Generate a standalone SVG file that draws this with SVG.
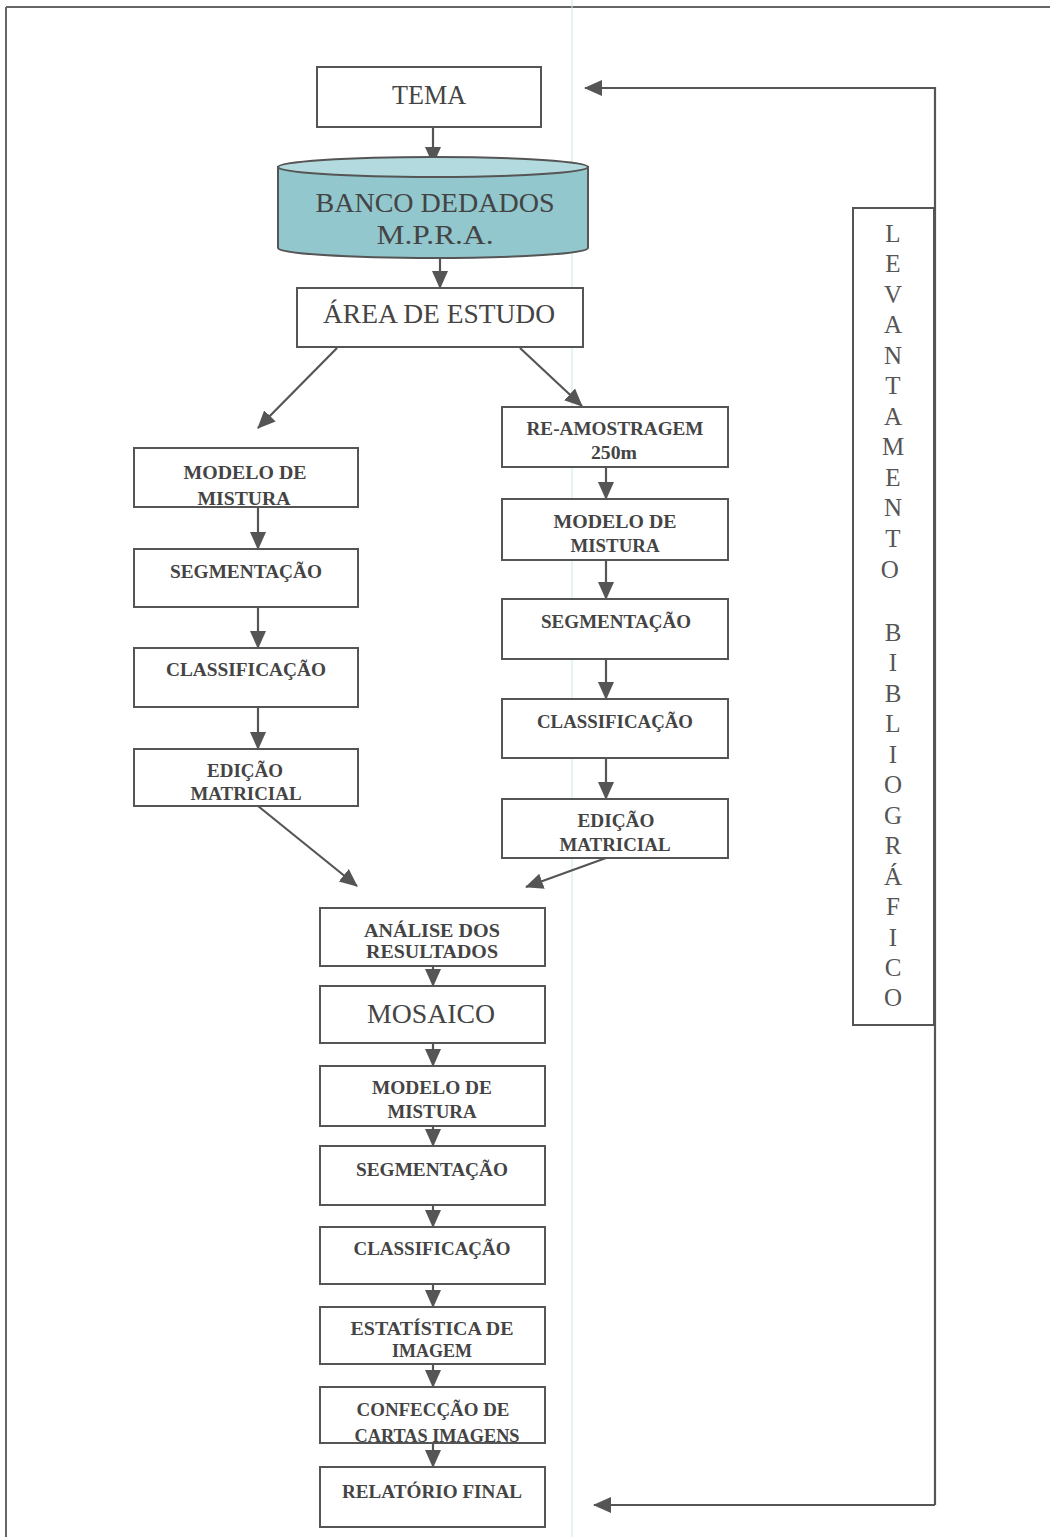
<svg xmlns="http://www.w3.org/2000/svg" width="1050" height="1537" viewBox="0 0 1050 1537">
<style>
.box{fill:#fff;stroke:#555;stroke-width:2}
.t{font-family:"Liberation Serif",serif;font-weight:bold;font-size:19px;fill:#444;text-anchor:middle}
.big{font-family:"Liberation Serif",serif;font-size:27px;fill:#444;text-anchor:middle}
.vt{font-family:"Liberation Serif",serif;font-size:25px;fill:#555;text-anchor:middle}
.c{stroke:#555;stroke-width:2.2;fill:none}
</style>
<defs>
<marker id="ah" markerWidth="18" markerHeight="18" refX="17" refY="9" orient="auto" markerUnits="userSpaceOnUse"><path d="M0,1 L18,9 L0,17 Z" fill="#555"/></marker>
<clipPath id="clipMix"><rect x="134" y="448" width="224" height="58"/></clipPath>
<clipPath id="clipCart"><rect x="320" y="1387" width="225" height="55"/></clipPath>
</defs>
<rect width="1050" height="1537" fill="#fff"/>
<g id="frame">
<line x1="6" y1="7" x2="1050" y2="7" stroke="#666" stroke-width="2"/>
<line x1="6" y1="7" x2="6" y2="1537" stroke="#666" stroke-width="2"/>
<line x1="572" y1="0" x2="572" y2="1537" stroke="#c4ece6" stroke-width="1"/>
</g>
<g id="connectors">
<line class="c" x1="433" y1="127" x2="433" y2="164" marker-end="url(#ah)"/>
<line class="c" x1="440" y1="250" x2="440" y2="288" marker-end="url(#ah)"/>
<line class="c" x1="337" y1="348" x2="258" y2="428" marker-end="url(#ah)"/>
<line class="c" x1="520" y1="348" x2="582" y2="406" marker-end="url(#ah)"/>
<line class="c" x1="258" y1="507" x2="258" y2="549" marker-end="url(#ah)"/>
<line class="c" x1="258" y1="607" x2="258" y2="648" marker-end="url(#ah)"/>
<line class="c" x1="258" y1="707" x2="258" y2="749" marker-end="url(#ah)"/>
<line class="c" x1="606" y1="467" x2="606" y2="499" marker-end="url(#ah)"/>
<line class="c" x1="606" y1="560" x2="606" y2="599" marker-end="url(#ah)"/>
<line class="c" x1="606" y1="659" x2="606" y2="699" marker-end="url(#ah)"/>
<line class="c" x1="606" y1="758" x2="606" y2="799" marker-end="url(#ah)"/>
<line class="c" x1="258" y1="806" x2="357" y2="886" marker-end="url(#ah)"/>
<line class="c" x1="606" y1="858" x2="526" y2="887" marker-end="url(#ah)"/>
<line class="c" x1="433" y1="966" x2="433" y2="986" marker-end="url(#ah)"/>
<line class="c" x1="433" y1="1043" x2="433" y2="1066" marker-end="url(#ah)"/>
<line class="c" x1="433" y1="1126" x2="433" y2="1146" marker-end="url(#ah)"/>
<line class="c" x1="433" y1="1205" x2="433" y2="1227" marker-end="url(#ah)"/>
<line class="c" x1="433" y1="1284" x2="433" y2="1307" marker-end="url(#ah)"/>
<line class="c" x1="433" y1="1364" x2="433" y2="1387" marker-end="url(#ah)"/>
<line class="c" x1="433" y1="1443" x2="433" y2="1467" marker-end="url(#ah)"/>
<path class="c" d="M935,1505 L935,88 L585,88" marker-end="url(#ah)"/>
<path class="c" d="M935,1505 L594,1505" marker-end="url(#ah)"/>
</g>
<g id="tema">
<rect class="box" x="317" y="67" width="224" height="60"/>
<text class="big" x="429" y="104" textLength="74" lengthAdjust="spacingAndGlyphs">TEMA</text>
</g>
<g id="banco">
<path d="M278,167 L278,248 A155,10 0 0 0 588,248 L588,167 Z" fill="#92c7cd" stroke="#555" stroke-width="2"/>
<ellipse cx="433" cy="167" rx="155" ry="10" fill="#b3dbdf" stroke="#555" stroke-width="2"/>
<text class="big" x="435" y="212" textLength="239" lengthAdjust="spacingAndGlyphs">BANCO DEDADOS</text>
<text class="big" x="435" y="244" textLength="117" lengthAdjust="spacingAndGlyphs">M.P.R.A.</text>
</g>
<g id="area">
<rect class="box" x="297" y="288" width="286" height="59"/>
<text class="big" x="439" y="323" textLength="232" lengthAdjust="spacingAndGlyphs">ÁREA DE ESTUDO</text>
</g>
<g id="l-modelo">
<rect class="box" x="134" y="448" width="224" height="59"/>
<g clip-path="url(#clipMix)">
<text class="t" x="245" y="479" textLength="123" lengthAdjust="spacingAndGlyphs">MODELO DE</text>
<text class="t" x="244" y="505" textLength="93" lengthAdjust="spacingAndGlyphs">MISTURA</text>
</g>
</g>
<g id="l-seg">
<rect class="box" x="134" y="549" width="224" height="58"/>
<text class="t" x="246" y="578" textLength="152" lengthAdjust="spacingAndGlyphs">SEGMENTAÇÃO</text>
</g>
<g id="l-class">
<rect class="box" x="134" y="648" width="224" height="59"/>
<text class="t" x="246" y="676" textLength="160" lengthAdjust="spacingAndGlyphs">CLASSIFICAÇÃO</text>
</g>
<g id="l-edicao">
<rect class="box" x="134" y="749" width="224" height="57"/>
<text class="t" x="245" y="777" textLength="76" lengthAdjust="spacingAndGlyphs">EDIÇÃO</text>
<text class="t" x="246" y="800" textLength="111" lengthAdjust="spacingAndGlyphs">MATRICIAL</text>
</g>
<g id="r-reamostra">
<rect class="box" x="502" y="407" width="226" height="60"/>
<text class="t" x="615" y="435" textLength="177" lengthAdjust="spacingAndGlyphs">RE-AMOSTRAGEM</text>
<text class="t" x="614" y="459" textLength="46" lengthAdjust="spacingAndGlyphs">250m</text>
</g>
<g id="r-modelo">
<rect class="box" x="502" y="499" width="226" height="61"/>
<text class="t" x="615" y="528" textLength="123" lengthAdjust="spacingAndGlyphs">MODELO DE</text>
<text class="t" x="615" y="552" textLength="89" lengthAdjust="spacingAndGlyphs">MISTURA</text>
</g>
<g id="r-seg">
<rect class="box" x="502" y="599" width="226" height="60"/>
<text class="t" x="616" y="628" textLength="150" lengthAdjust="spacingAndGlyphs">SEGMENTAÇÃO</text>
</g>
<g id="r-class">
<rect class="box" x="502" y="699" width="226" height="59"/>
<text class="t" x="615" y="728" textLength="156" lengthAdjust="spacingAndGlyphs">CLASSIFICAÇÃO</text>
</g>
<g id="r-edicao">
<rect class="box" x="502" y="799" width="226" height="59"/>
<text class="t" x="616" y="827" textLength="77" lengthAdjust="spacingAndGlyphs">EDIÇÃO</text>
<text class="t" x="615" y="851" textLength="111" lengthAdjust="spacingAndGlyphs">MATRICIAL</text>
</g>
<g id="analise">
<rect class="box" x="320" y="908" width="225" height="58"/>
<text class="t" x="432" y="937" textLength="136" lengthAdjust="spacingAndGlyphs">ANÁLISE DOS</text>
<text class="t" x="432" y="958" textLength="132" lengthAdjust="spacingAndGlyphs">RESULTADOS</text>
</g>
<g id="mosaico">
<rect class="box" x="320" y="986" width="225" height="57"/>
<text class="big" x="431" y="1023" textLength="128" lengthAdjust="spacingAndGlyphs">MOSAICO</text>
</g>
<g id="c-modelo">
<rect class="box" x="320" y="1066" width="225" height="60"/>
<text class="t" x="432" y="1094" textLength="120" lengthAdjust="spacingAndGlyphs">MODELO DE</text>
<text class="t" x="432" y="1118" textLength="89" lengthAdjust="spacingAndGlyphs">MISTURA</text>
</g>
<g id="c-seg">
<rect class="box" x="320" y="1146" width="225" height="59"/>
<text class="t" x="432" y="1176" textLength="152" lengthAdjust="spacingAndGlyphs">SEGMENTAÇÃO</text>
</g>
<g id="c-class">
<rect class="box" x="320" y="1227" width="225" height="57"/>
<text class="t" x="432" y="1255" textLength="157" lengthAdjust="spacingAndGlyphs">CLASSIFICAÇÃO</text>
</g>
<g id="estatistica">
<rect class="box" x="320" y="1307" width="225" height="57"/>
<text class="t" x="432" y="1335" textLength="163" lengthAdjust="spacingAndGlyphs">ESTATÍSTICA DE</text>
<text class="t" x="432" y="1357" textLength="80" lengthAdjust="spacingAndGlyphs">IMAGEM</text>
</g>
<g id="confeccao">
<rect class="box" x="320" y="1387" width="225" height="56"/>
<g clip-path="url(#clipCart)">
<text class="t" x="433" y="1416" textLength="153" lengthAdjust="spacingAndGlyphs">CONFECÇÃO DE</text>
<text class="t" x="437" y="1442" textLength="165" lengthAdjust="spacingAndGlyphs">CARTAS IMAGENS</text>
</g>
</g>
<g id="relatorio">
<rect class="box" x="320" y="1467" width="225" height="60"/>
<text class="t" x="432" y="1498" textLength="180" lengthAdjust="spacingAndGlyphs">RELATÓRIO FINAL</text>
</g>
<g id="levantamento">
<rect class="box" x="853" y="208" width="81" height="817"/>
<text class="vt">
<tspan x="893" y="242">L</tspan><tspan x="893" y="272">E</tspan><tspan x="893" y="303">V</tspan><tspan x="893" y="333">A</tspan><tspan x="893" y="364">N</tspan><tspan x="893" y="394">T</tspan><tspan x="893" y="425">A</tspan><tspan x="893" y="455">M</tspan><tspan x="893" y="486">E</tspan><tspan x="893" y="516">N</tspan><tspan x="893" y="547">T</tspan><tspan x="893" y="578">O</tspan>
<tspan x="893" y="641">B</tspan><tspan x="893" y="671">I</tspan><tspan x="893" y="702">B</tspan><tspan x="893" y="732">L</tspan><tspan x="893" y="763">I</tspan><tspan x="893" y="793">O</tspan><tspan x="893" y="824">G</tspan><tspan x="893" y="854">R</tspan><tspan x="893" y="885">Á</tspan><tspan x="893" y="915">F</tspan><tspan x="893" y="946">I</tspan><tspan x="893" y="976">C</tspan><tspan x="893" y="1006">O</tspan>
</text>
</g>
</svg>
